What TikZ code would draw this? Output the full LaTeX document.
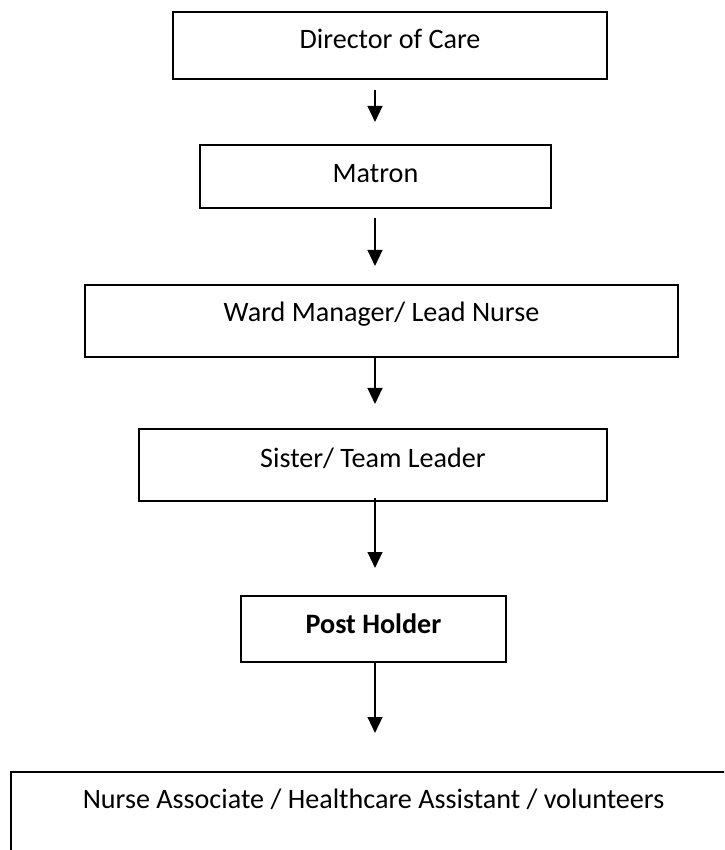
\documentclass[tikz,border=0pt]{standalone}
\usepackage{fontspec}
\setmainfont{Carlito}
\usetikzlibrary{arrows.meta}
\begin{document}
\begin{tikzpicture}[x=0.4pt,y=-0.4pt,
  box/.style={draw=black, line width=0.8pt, rectangle, inner sep=0pt, outer sep=0pt, anchor=north west},
  lbl/.style={anchor=base, inner sep=0pt, font=\fontsize{11.25pt}{13pt}\selectfont},
  arr/.style={line width=0.8pt, -{Triangle[width=5.9pt,length=6.4pt]}}]
\useasboundingbox (0,0) rectangle (724,850);
\clip (0,0) rectangle (724,850);
\coordinate (ax) at (375,0);
\node[box, minimum width=173.6pt, minimum height=26.8pt] (b1) at (173,12) {};
\node[box, minimum width=140.4pt, minimum height=25.2pt] (b2) at (200,145) {};
\node[box, minimum width=237.2pt, minimum height=28.8pt] (b3) at (85,285) {};
\node[box, minimum width=187.2pt, minimum height=28.8pt] (b4) at (139,429) {};
\node[box, minimum width=106pt, minimum height=26.4pt] (b5) at (241,596) {};
\node[box, minimum width=290pt, minimum height=48pt] (b6) at (11,772) {};
\node[lbl] (t1) at ([yshift=-14.8pt]b1.north) {Director of Care};
\node[lbl] (t2) at ([yshift=-15.2pt]b2.north) {Matron};
\node[lbl] (t3) at ([yshift=-14.8pt]b3.north) {Ward Manager/ Lead Nurse};
\node[lbl] (t4) at ([yshift=-15.2pt]b4.north) {Sister/ Team Leader};
\node[lbl] (t5) at ([yshift=-14.8pt]b5.north) {\bfseries Post Holder};
\node[lbl] (t6) at ([yshift=-14.4pt]b6.north) {Nurse Associate / Healthcare Assistant / volunteers};
\draw[arr, shorten <=4.4pt, shorten >=9.2pt] (b1.south -| ax) -- (b2.north -| ax);
\draw[arr, shorten <=4pt, shorten >=7.6pt] (b2.south -| ax) -- (b3.north -| ax);
\draw[arr, shorten >=10pt] (b3.south -| ax) -- (b4.north -| ax);
\draw[arr, shorten <=-1.2pt, shorten >=11.2pt] (b4.south -| ax) -- (b5.north -| ax);
\draw[arr, shorten >=15.6pt] (b5.south -| ax) -- (b6.north -| ax);
\end{tikzpicture}
\end{document}
